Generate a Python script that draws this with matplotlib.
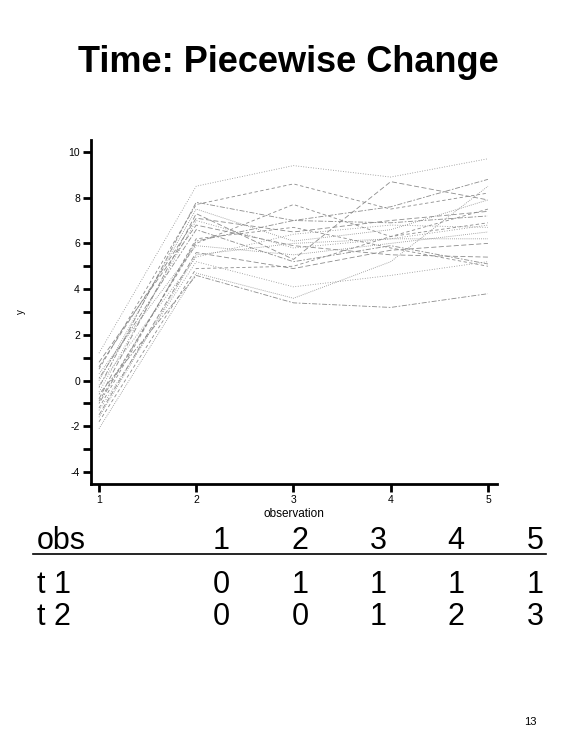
import matplotlib
matplotlib.use("Agg")
import matplotlib.pyplot as plt

plt.rcParams['font.family'] = ['Liberation Sans', 'DejaVu Sans']

obs = [1, 2, 3, 4, 5]
y_lines = [
    [1.2, 8.5, 9.4, 8.9, 9.7],
    [0.5, 7.7, 8.6, 7.5, 8.2],
    [-0.3, 7.8, 7.0, 7.6, 8.8],
    [0.0, 7.5, 6.1, 6.6, 7.9],
    [-0.8, 7.3, 5.3, 8.7, 7.9],
    [-0.5, 7.0, 5.8, 6.2, 6.8],
    [-1.2, 6.2, 6.7, 5.8, 5.0],
    [-1.0, 6.1, 7.0, 6.9, 7.2],
    [0.3, 5.9, 5.5, 6.0, 6.5],
    [-1.5, 5.6, 4.9, 5.7, 6.0],
    [-0.2, 5.4, 6.4, 6.8, 6.7],
    [-1.8, 4.9, 5.0, 6.3, 7.5],
    [-0.6, 4.6, 3.4, 3.2, 3.8],
    [-2.1, 4.7, 3.6, 5.2, 8.5],
    [0.8, 6.8, 5.9, 5.5, 5.4],
    [-1.3, 5.2, 4.1, 4.6, 5.2],
    [-0.9, 6.0, 7.7, 6.3, 6.9],
    [0.1, 6.6, 5.2, 5.9, 5.1],
    [-1.6, 5.5, 6.0, 6.2, 6.2],
    [0.6, 7.1, 6.5, 7.0, 7.4],
]
y_ticks = [10, 8, 6, 5, 4, 3, 2, 1, 0, -1, -2, -3, -4]
y_ticklabels = ['10', '8', '6', '', '4', '', '2', '', '0', '', '-2', '', '-4']

header = ['obs', '1', '2', '3', '4', '5']
rows = [['t 1', '0', '1', '1', '1', '1'],
        ['t 2', '0', '0', '1', '2', '3']]

styles = [(0, (1, 2)), (0, (4, 3)), (0, (2, 2, 6, 2)), (0, (1, 1.5)), (0, (6, 3))]

fig = plt.figure(figsize=(5.76, 7.56), dpi=100)
fig.text(0.5, 1 - 63 / 756, 'Time: Piecewise Change', ha='center', va='center',
         fontsize=26, fontweight='bold')

ax = fig.add_axes([91 / 576, 1 - 484 / 756, 406 / 576, 344 / 756])
for i, ys in enumerate(y_lines):
    ax.plot(obs, ys, color='#8c8c8c', lw=0.6, ls=styles[i % len(styles)])

ax.set_xlim(0.918, 5.093)
ax.set_ylim(-4.52, 10.52)
ax.set_xticks(obs)
ax.set_yticks(y_ticks)
ax.set_yticklabels(y_ticklabels)
for s in ['top', 'right']:
    ax.spines[s].set_visible(False)
for s in ['left', 'bottom']:
    ax.spines[s].set_linewidth(2)
ax.tick_params(width=2, length=6, labelsize=7.5, pad=2)
ax.set_xlabel('observation', fontsize=8.5, labelpad=2)
ax.set_ylabel('y', fontsize=7)
ax.yaxis.set_label_coords(-0.16, 0.5)

# table under the chart
xs = [37, 221, 300, 378, 456, 535]
for j, t in enumerate(header):
    fig.text(xs[j] / 576, 1 - 541 / 756, t, ha='left' if j == 0 else 'center',
             va='center', fontsize=22)
for r, row in enumerate(rows):
    for j, t in enumerate(row):
        fig.text(xs[j] / 576, 1 - (585 + 32 * r) / 756, t,
                 ha='left' if j == 0 else 'center', va='center', fontsize=22)
fig.add_artist(plt.Line2D([33 / 576, 546 / 576], [1 - 554 / 756, 1 - 554 / 756],
                          color='black', lw=1.2))

fig.text(530 / 576, 1 - 722 / 756, '13', ha='center', va='center', fontsize=8)

fig.savefig('out.png', dpi=100)
